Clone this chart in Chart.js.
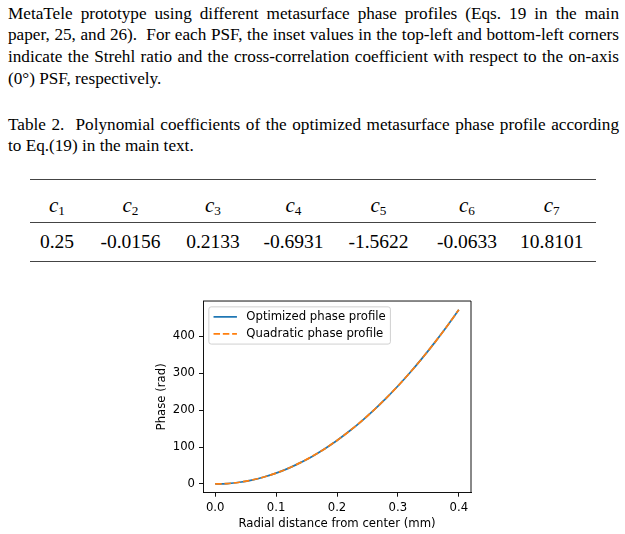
<!DOCTYPE html>
<html>
<head>
<meta charset="utf-8">
<script src="https://cdn.jsdelivr.net/npm/chart.js@4.4.1/dist/chart.umd.min.js"></script>
<style>
  html, body { margin: 0; padding: 0; background: #fff; }
  body { width: 625px; height: 534px; position: relative; overflow: hidden; }
  .serif { font-family: "Liberation Serif", "Times New Roman", serif; color: #000; }
  .ln { position: absolute; left: 8px; width: 611px; font-size: 17.2px; line-height: 17.2px; white-space: nowrap; }
  .just { text-align: justify; text-align-last: justify; white-space: normal; }
  .rule { position: absolute; left: 30px; width: 566px; height: 1.4px; background: #444; }
  .cell { position: absolute; width: 120px; text-align: center; font-size: 19.5px; line-height: 19.5px; white-space: nowrap; }
  .cell i { font-style: italic; font-size: 1.08em; }
  .cell sub { font-size: 0.68em; vertical-align: -0.25em; line-height: 0; font-style: normal; }
  #chartWrap { position: absolute; left: 150px; top: 290px; width: 330px; height: 244px; }
</style>
</head>
<body>
<div class="serif">
  <div class="ln just" style="top:4.6px">MetaTele prototype using different metasurface phase profiles (Eqs. 19 in the main</div>
  <div class="ln just" style="top:26.3px">paper, 25, and 26). &nbsp;For each PSF, the inset values in the top-left and bottom-left corners</div>
  <div class="ln just" style="top:47.9px">indicate the Strehl ratio and the cross-correlation coefficient with respect to the on-axis</div>
  <div class="ln" style="top:69.6px">(0°) PSF, respectively.</div>

  <div class="ln just" style="top:116.3px">Table 2. &nbsp;Polynomial coefficients of the optimized metasurface phase profile according</div>
  <div class="ln" style="top:137.3px">to Eq.(19) in the main text.</div>

  <div class="rule" style="top:178.6px"></div>
  <div class="rule" style="top:221.6px"></div>
  <div class="rule" style="top:261px"></div>
  <div id="tableRows"></div>
</div>
<div id="chartWrap"><canvas id="c" width="330" height="244"></canvas></div>
<script>
// ---- Table data ----
const coefNames = ["1", "2", "3", "4", "5", "6", "7"];
const coefValues = ["0.25", "-0.0156", "0.2133", "-0.6931", "-1.5622", "-0.0633", "10.8101"];
const colCenters = [57, 130.5, 213, 293.5, 378.5, 467, 551.7];

// ---- Chart data ----
const radius = [0, 0.02, 0.04, 0.06, 0.08, 0.10, 0.12, 0.14, 0.16, 0.18, 0.20,
                0.22, 0.24, 0.26, 0.28, 0.30, 0.32, 0.34, 0.36, 0.38, 0.40];
const optimizedPhase = [0, 1.2, 4.7, 10.6, 18.9, 29.5, 42.4, 57.8, 75.4, 95.5, 117.9,
                        142.7, 169.8, 199.3, 231.2, 265.4, 302.0, 341.0, 382.3, 426.0, 472.0];
const quadraticPhase = [0, 1.2, 4.7, 10.6, 18.9, 29.5, 42.5, 57.8, 75.5, 95.6, 118.0,
                        142.8, 169.9, 199.4, 231.3, 265.5, 302.1, 341.0, 382.3, 426.0, 472.0];
const xTickValues = [0, 0.1, 0.2, 0.3, 0.4];
const xTickLabels = ["0.0", "0.1", "0.2", "0.3", "0.4"];
const yTickValues = [0, 100, 200, 300, 400];
const yTickLabels = ["0", "100", "200", "300", "400"];
const seriesNames = ["Optimized phase profile", "Quadratic phase profile"];

// build table
(function () {
  const host = document.getElementById('tableRows');
  coefNames.forEach((n, i) => {
    const h = document.createElement('div');
    h.className = 'cell';
    h.style.left = (colCenters[i] - 60) + 'px';
    h.style.top = '195.7px';
    h.innerHTML = '<i>c</i><sub>' + n + '</sub>';
    host.appendChild(h);
    const v = document.createElement('div');
    v.className = 'cell';
    v.style.left = (colCenters[i] - 60) + 'px';
    v.style.top = '231.7px';
    v.textContent = coefValues[i];
    host.appendChild(v);
  });
})();

const FONT = { family: "'DejaVu Sans', sans-serif", size: 11.7 };
const LW = 0.93;

const framePlugin = {
  id: 'frame',
  afterDraw(chart) {
    const { ctx, chartArea: a } = chart;
    ctx.save();
    ctx.strokeStyle = '#000';
    ctx.lineWidth = LW;
    ctx.beginPath();
    ctx.moveTo(a.left, a.top); ctx.lineTo(a.right, a.top); ctx.lineTo(a.right, a.bottom);
    ctx.stroke();
    // legend (matplotlib style, upper left)
    const fs = FONT.size;
    ctx.font = fs + "px 'DejaVu Sans', sans-serif";
    const texts = chart.data.datasets.map(d => d.label);
    const tw = Math.max(...texts.map(t => ctx.measureText(t).width));
    const pad = 0.4 * fs, hl = 2 * fs, htp = 0.8 * fs;
    const x0 = a.left + 0.5 * fs, y0 = a.top + 0.5 * fs;
    const rowH = 17;
    const w = pad + hl + htp + tw + pad;
    const h = 37.2;
    const r = 2.3;
    ctx.beginPath();
    ctx.moveTo(x0 + r, y0);
    ctx.lineTo(x0 + w - r, y0); ctx.arcTo(x0 + w, y0, x0 + w, y0 + r, r);
    ctx.lineTo(x0 + w, y0 + h - r); ctx.arcTo(x0 + w, y0 + h, x0 + w - r, y0 + h, r);
    ctx.lineTo(x0 + r, y0 + h); ctx.arcTo(x0, y0 + h, x0, y0 + h - r, r);
    ctx.lineTo(x0, y0 + r); ctx.arcTo(x0, y0, x0 + r, y0, r);
    ctx.closePath();
    ctx.fillStyle = 'rgba(255,255,255,0.8)';
    ctx.fill();
    ctx.strokeStyle = '#cccccc';
    ctx.lineWidth = LW;
    ctx.stroke();
    chart.data.datasets.forEach((d, i) => {
      const cy = y0 + 10 + i * rowH;
      ctx.beginPath();
      ctx.strokeStyle = d.borderColor;
      ctx.lineWidth = d.borderWidth;
      ctx.setLineDash(d.borderDash || []);
      ctx.moveTo(x0 + pad, cy); ctx.lineTo(x0 + pad + hl, cy);
      ctx.stroke();
      ctx.setLineDash([]);
      ctx.fillStyle = '#000';
      ctx.textBaseline = 'middle';
      ctx.textAlign = 'left';
      ctx.fillText(d.label, x0 + pad + hl + htp, cy + 0.5);
    });
    ctx.restore();
  }
};

new Chart(document.getElementById('c'), {
  type: 'line',
  data: {
    datasets: [
      {
        label: seriesNames[0],
        data: radius.map((r, i) => ({ x: r, y: optimizedPhase[i] })),
        borderColor: '#1f77b4', borderWidth: 1.75, pointRadius: 0, order: 2,
        cubicInterpolationMode: 'monotone', fill: false
      },
      {
        label: seriesNames[1],
        data: radius.map((r, i) => ({ x: r, y: quadraticPhase[i] })),
        borderColor: '#ff7f0e', borderWidth: 1.75, borderDash: [6.5, 2.8], pointRadius: 0, order: 1,
        cubicInterpolationMode: 'monotone', fill: false
      }
    ]
  },
  options: {
    responsive: false,
    animation: false,
    devicePixelRatio: 1,
    layout: { padding: { top: 10, right: 9, left: 0, bottom: 0 } },
    plugins: { legend: { display: false }, tooltip: { enabled: false } },
    scales: {
      x: {
        type: 'linear', min: -0.02, max: 0.42,
        afterBuildTicks: s => { s.ticks = xTickValues.map(v => ({ value: v })); },
        afterFit: s => { s.height = 41.3; },
        ticks: { callback: (v, i) => xTickLabels[i], color: '#000', font: FONT, padding: 4, maxRotation: 0 },
        grid: { drawOnChartArea: false, drawTicks: true, tickLength: 4, color: '#000', lineWidth: LW },
        border: { display: true, color: '#000', width: LW },
        title: { display: true, text: 'Radial distance from center (mm)', color: '#000', font: FONT, padding: { top: 0, bottom: 3 } }
      },
      y: {
        type: 'linear', min: -23.6, max: 495.6,
        afterBuildTicks: s => { s.ticks = yTickValues.map(v => ({ value: v })); },
        afterFit: s => { s.width = 53; },
        ticks: { callback: (v, i) => yTickLabels[i], color: '#000', font: FONT, padding: 4 },
        grid: { drawOnChartArea: false, drawTicks: true, tickLength: 4, color: '#000', lineWidth: LW },
        border: { display: true, color: '#000', width: LW },
        title: { display: true, text: 'Phase (rad)', color: '#000', font: FONT, padding: { top: 5, bottom: 0 } }
      }
    }
  },
  plugins: [framePlugin]
});
</script>
</body>
</html>
